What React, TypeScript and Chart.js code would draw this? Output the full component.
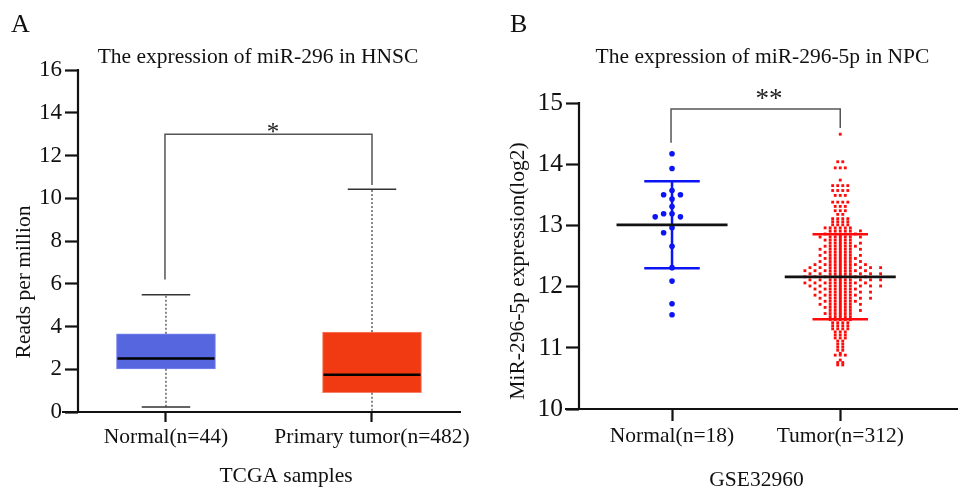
import React, { useEffect, useRef } from "react";
import { Chart, registerables } from "chart.js";

Chart.register(...registerables);

const FONT = '"Liberation Serif", "Times New Roman", serif';

// ---------- Panel A : box plot (TCGA HNSC) ----------
const boxCategories = ["Normal(n=44)", "Primary tumor(n=482)"];
const boxMin = [0.23, 0];
const boxQ1 = [2.02, 0.9];
const boxMedian = [2.5, 1.74];
const boxQ3 = [3.66, 3.74];
const boxMax = [5.48, 10.42];
const boxColors = ["#5666DF", "#F23A12"];
const boxBorderColors = ["#7886EE", "#F7806A"];
const bracketA = { top: 13.0, leftEnd: 6.2, rightEnd: 10.62, label: "*", labelX: 1.52 };

// ---------- Panel B : scatter dot plot (GSE32960) ----------
const dotCategories = ["Normal(n=18)", "Tumor(n=312)"];
const normalValues = [
  14.17, 13.93, 13.57, 13.5, 13.5, 13.43, 13.31, 13.19, 13.19, 13.14, 13.14,
  12.96, 12.88, 12.66, 12.31, 12.09, 11.72, 11.54,
];
// tumour values read as levels with the number of points at each level
const tumorLevels = [
  14.49, 14.04, 13.94, 13.74, 13.65, 13.57, 13.49, 13.38, 13.31, 13.24, 13.18,
  13.11, 13.06, 13.01, 12.96, 12.91, 12.86, 12.81, 12.76, 12.71, 12.66, 12.61,
  12.56, 12.51, 12.46, 12.41, 12.36, 12.31, 12.26, 12.21, 12.16, 12.11, 12.06,
  12.01, 11.96, 11.91, 11.86, 11.81, 11.76, 11.71, 11.66, 11.61, 11.56, 11.51,
  11.46, 11.41, 11.36, 11.31, 11.26, 11.21, 11.16, 11.11, 11.06, 11.01, 10.96,
  10.91, 10.88, 10.8, 10.76, 10.72,
];
const tumorCounts = [
  1, 2, 3, 1, 4, 4, 3, 4, 3, 3, 2,
  4, 4, 4, 6, 6, 7, 7, 6, 6, 7, 7,
  6, 7, 7, 7, 9, 10, 10, 10, 10, 10, 10,
  10, 8, 8, 8, 8, 7, 7, 6, 6, 6, 5,
  5, 4, 4, 4, 3, 3, 3, 2, 2, 2, 2,
  1, 3, 1, 2, 2,
];
const groupMeans = [13.01, 12.16];
const groupSDs = [0.71, 0.695];
const dotColors = ["#0A14F5", "#FF0A0A"];
const bracketB = { top: 14.9, leftEnd: 14.35, rightEnd: 14.59, label: "**", labelX: 1.576 };

// layout-style constants (not data)
const NORMAL_STEP = 0.05;
const TUMOR_STEP = 0.03;
const CORE_ORDER = [0, -1, 1, -2, 2];
const OUTER_EVEN = [-3, 3, -5, 5, -7, 7, -9, 9];
const OUTER_ODD = [4, -4, 6, -6, 8, -8, 10, -10];

function swarmNormal(values: number[]) {
  const sorted = [...values].sort((a, b) => b - a);
  const placed: { v: number; c: number }[] = [];
  const out: { x: number; y: number }[] = [];
  for (const v of sorted) {
    let col = 0;
    for (let k = 0; k < 30; k++) {
      const cand = k === 0 ? 0 : k % 2 === 1 ? -Math.ceil(k / 2) : Math.ceil(k / 2);
      if (!placed.some((q) => q.c === cand && Math.abs(q.v - v) < 0.1)) {
        col = cand;
        break;
      }
    }
    placed.push({ v, c: col });
    out.push({ x: 1 + col * NORMAL_STEP, y: v });
  }
  return out;
}

function tumorPoints() {
  const out: { x: number; y: number }[] = [];
  tumorLevels.forEach((v, i) => {
    const n = tumorCounts[i];
    for (let j = 0; j < n; j++) {
      let col: number;
      if (n <= 4) col = j - (n - 1) / 2;
      else if (j < CORE_ORDER.length) col = CORE_ORDER[j];
      else col = (i % 2 === 0 ? OUTER_EVEN : OUTER_ODD)[j - CORE_ORDER.length];
      out.push({ x: 2 + col * TUMOR_STEP, y: v });
    }
  });
  return out;
}

type TextSpec = { t: string; x: number; y: number; size: number; align?: CanvasTextAlign; rot?: boolean; base?: CanvasTextBaseline };

function textPlugin(id: string, texts: TextSpec[]) {
  return {
    id,
    afterDraw(chart: any) {
      const ctx = chart.ctx as CanvasRenderingContext2D;
      ctx.save();
      ctx.fillStyle = "#111";
      for (const s of texts) {
        ctx.save();
        ctx.font = `${s.size}px ${FONT}`;
        ctx.textAlign = s.align || "center";
        ctx.textBaseline = s.base || "alphabetic";
        ctx.translate(s.x, s.y);
        if (s.rot) ctx.rotate(-Math.PI / 2);
        ctx.fillText(s.t, 0, 0);
        ctx.restore();
      }
      ctx.restore();
    },
  };
}

function axisPlugin(id: string, leftExt: number) {
  return {
    id,
    afterDatasetsDraw(chart: any) {
      const { ctx, chartArea, scales } = chart;
      const y = scales.y;
      ctx.save();
      ctx.strokeStyle = "#111";
      ctx.lineWidth = 2.2;
      ctx.beginPath();
      ctx.moveTo(chartArea.left, y.getPixelForValue(y.max) - 1);
      ctx.lineTo(chartArea.left, chartArea.bottom);
      ctx.moveTo(chartArea.left - leftExt, chartArea.bottom);
      ctx.lineTo(chartArea.right, chartArea.bottom);
      ctx.stroke();
      ctx.restore();
    },
  };
}

function bracketPlugin(id: string, b: any, size: number, lift: number) {
  return {
    id,
    afterDraw(chart: any) {
      const { ctx, scales } = chart;
      const xs = scales.x;
      const ys = scales.y;
      const x1 = xs.getPixelForValue(1) - 1;
      const x2 = xs.getPixelForValue(2);
      const yt = ys.getPixelForValue(b.top);
      ctx.save();
      ctx.strokeStyle = "#555";
      ctx.lineWidth = 1.5;
      ctx.beginPath();
      ctx.moveTo(x1, ys.getPixelForValue(b.leftEnd));
      ctx.lineTo(x1, yt);
      ctx.lineTo(x2, yt);
      ctx.lineTo(x2, ys.getPixelForValue(b.rightEnd));
      ctx.stroke();
      ctx.fillStyle = "#222";
      ctx.font = `${size}px ${FONT}`;
      ctx.textAlign = "center";
      ctx.textBaseline = "alphabetic";
      ctx.fillText(b.label, xs.getPixelForValue(b.labelX), yt + lift);
      ctx.restore();
    },
  };
}

const boxPlugin = {
  id: "boxExtras",
  afterDatasetsDraw(chart: any) {
    const { ctx, scales } = chart;
    const ys = scales.y;
    const meta = chart.getDatasetMeta(0);
    ctx.save();
    boxCategories.forEach((_, i) => {
      const el = meta.data[i];
      const cx = el.x;
      const w = el.width;
      const capHalf = (w * 0.49) / 2;
      ctx.strokeStyle = "#111";
      ctx.lineWidth = 1;
      ctx.setLineDash([2, 2]);
      ctx.beginPath();
      ctx.moveTo(cx, ys.getPixelForValue(boxQ3[i]));
      ctx.lineTo(cx, ys.getPixelForValue(boxMax[i]));
      ctx.moveTo(cx, ys.getPixelForValue(boxQ1[i]));
      ctx.lineTo(cx, ys.getPixelForValue(boxMin[i]));
      ctx.stroke();
      ctx.setLineDash([]);
      ctx.strokeStyle = "#333";
      ctx.lineWidth = 1.5;
      ctx.beginPath();
      ctx.moveTo(cx - capHalf, ys.getPixelForValue(boxMax[i]));
      ctx.lineTo(cx + capHalf, ys.getPixelForValue(boxMax[i]));
      ctx.moveTo(cx - capHalf, ys.getPixelForValue(boxMin[i]));
      ctx.lineTo(cx + capHalf, ys.getPixelForValue(boxMin[i]));
      ctx.stroke();
      ctx.strokeStyle = "#000";
      ctx.lineWidth = 2.5;
      ctx.beginPath();
      ctx.moveTo(cx - w / 2 + 1, ys.getPixelForValue(boxMedian[i]));
      ctx.lineTo(cx + w / 2 - 1, ys.getPixelForValue(boxMedian[i]));
      ctx.stroke();
    });
    ctx.restore();
  },
};

const statsPlugin = {
  id: "meanSd",
  afterDatasetsDraw(chart: any) {
    const { ctx, scales } = chart;
    const xs = scales.x;
    const ys = scales.y;
    ctx.save();
    groupMeans.forEach((m, i) => {
      const cx = xs.getPixelForValue(i + 1);
      const sdHalf = xs.getPixelForValue(i + 1 + 0.165) - cx;
      const meanHalf = xs.getPixelForValue(i + 1 + 0.33) - cx;
      const yHi = ys.getPixelForValue(m + groupSDs[i]);
      const yLo = ys.getPixelForValue(m - groupSDs[i]);
      ctx.strokeStyle = dotColors[i];
      ctx.lineWidth = 2.5;
      ctx.beginPath();
      ctx.moveTo(cx, yHi);
      ctx.lineTo(cx, yLo);
      ctx.moveTo(cx - sdHalf, yHi);
      ctx.lineTo(cx + sdHalf, yHi);
      ctx.moveTo(cx - sdHalf, yLo);
      ctx.lineTo(cx + sdHalf, yLo);
      ctx.stroke();
      ctx.strokeStyle = "#111";
      ctx.lineWidth = 2.8;
      ctx.beginPath();
      ctx.moveTo(cx - meanHalf, ys.getPixelForValue(m));
      ctx.lineTo(cx + meanHalf, ys.getPixelForValue(m));
      ctx.stroke();
    });
    ctx.restore();
  },
};

function xTicksOnly(cats: string[]) {
  return (s: any) => {
    s.ticks = cats.map((_, i) => ({ value: i + 1 }));
  };
}

export default function App() {
  const refA = useRef<HTMLCanvasElement>(null);
  const refB = useRef<HTMLCanvasElement>(null);

  useEffect(() => {
    const tickFont = (size: number) => ({ family: FONT, size });
    const chartA = new Chart(refA.current!, {
      type: "bar",
      data: {
        datasets: [
          {
            data: boxCategories.map((_, i) => ({ x: i + 1, y: [boxQ1[i], boxQ3[i]] })) as any,
            backgroundColor: boxColors,
            borderColor: boxBorderColors,
            borderWidth: 1,
            borderSkipped: false,
            barThickness: 99,
          },
        ],
      },
      options: {
        responsive: false,
        animation: false,
        devicePixelRatio: 1,
        layout: { padding: { top: 70, right: 20, left: 0, bottom: 0 } },
        plugins: { legend: { display: false }, tooltip: { enabled: false } },
        scales: {
          x: {
            type: "linear",
            min: 0.573,
            max: 2.432,
            offset: false,
            afterBuildTicks: xTicksOnly(boxCategories),
            ticks: {
              callback: (_v: any, i: number) => boxCategories[i],
              font: tickFont(21.5),
              color: "#111",
              padding: 2,
              maxRotation: 0,
              autoSkip: false,
            },
            grid: { offset: false, drawOnChartArea: false, drawTicks: true, tickLength: 10, tickWidth: 2.2, tickColor: "#111" },
            border: { display: false },
            afterFit: (s: any) => {
              s.height = 79;
            },
          },
          y: {
            min: 0,
            max: 16,
            ticks: { stepSize: 2, font: tickFont(23), color: "#111", padding: 3 },
            grid: { drawOnChartArea: false, drawTicks: true, tickLength: 13, tickWidth: 2.2, tickColor: "#111" },
            border: { display: false },
            afterFit: (s: any) => {
              s.width = 78;
            },
          },
        },
      } as any,
      plugins: [
        boxPlugin,
        axisPlugin("axA", 16),
        bracketPlugin("brA", bracketA, 25, 6),
        textPlugin("txtA", [
          { t: "A", x: 11, y: 32, size: 26, align: "left" },
          { t: "The expression of miR-296 in HNSC", x: 258, y: 63, size: 21.5 },
          { t: "Reads per million", x: 24, y: 282, size: 21.5, rot: true, base: "middle" },
          { t: "TCGA samples", x: 286, y: 482, size: 21.5 },
        ]),
      ],
    });

    const chartB = new Chart(refB.current!, {
      type: "scatter",
      data: {
        datasets: [
          {
            data: swarmNormal(normalValues),
            pointStyle: "circle",
            pointRadius: 2.8,
            pointBackgroundColor: dotColors[0],
            pointBorderWidth: 0,
          },
          {
            data: tumorPoints(),
            pointStyle: "rect",
            pointRadius: 2,
            pointBackgroundColor: dotColors[1],
            pointBorderWidth: 0,
          },
        ],
      },
      options: {
        responsive: false,
        animation: false,
        devicePixelRatio: 1,
        layout: { padding: { top: 103, right: 0, left: 0, bottom: 0 } },
        plugins: { legend: { display: false }, tooltip: { enabled: false } },
        scales: {
          x: {
            type: "linear",
            min: 0.447,
            max: 2.7,
            offset: false,
            afterBuildTicks: xTicksOnly(dotCategories),
            ticks: {
              callback: (_v: any, i: number) => dotCategories[i],
              font: tickFont(21.5),
              color: "#111",
              padding: 2,
              maxRotation: 0,
              autoSkip: false,
            },
            grid: { offset: false, drawOnChartArea: false, drawTicks: true, tickLength: 12, tickWidth: 2.2, tickColor: "#111" },
            border: { display: false },
            afterFit: (s: any) => {
              s.height = 82;
            },
          },
          y: {
            min: 10,
            max: 15,
            ticks: { stepSize: 1, font: tickFont(25.5), color: "#111", padding: 3 },
            grid: { drawOnChartArea: false, drawTicks: true, tickLength: 13, tickWidth: 2.2, tickColor: "#111" },
            border: { display: false },
            afterFit: (s: any) => {
              s.width = 98;
            },
          },
        },
      } as any,
      plugins: [
        statsPlugin,
        axisPlugin("axB", 14),
        bracketPlugin("brB", bracketB, 27, -2),
        textPlugin("txtB", [
          { t: "B", x: 29, y: 32, size: 26, align: "left" },
          { t: "The expression of miR-296-5p in NPC", x: 281.5, y: 63, size: 21.5 },
          { t: "MiR-296-5p expression(log2)", x: 37, y: 271, size: 21.5, rot: true, base: "middle" },
          { t: "GSE32960", x: 275.5, y: 486, size: 21.5 },
        ]),
      ],
    });

    return () => {
      chartA.destroy();
      chartB.destroy();
    };
  }, []);

  return (
    <div style={{ position: "fixed", left: 0, top: 0, width: 962, height: 491, background: "#fff" }}>
      <canvas ref={refA} width={481} height={491} style={{ position: "absolute", left: 0, top: 0 }} />
      <canvas ref={refB} width={481} height={491} style={{ position: "absolute", left: 481, top: 0 }} />
    </div>
  );
}
